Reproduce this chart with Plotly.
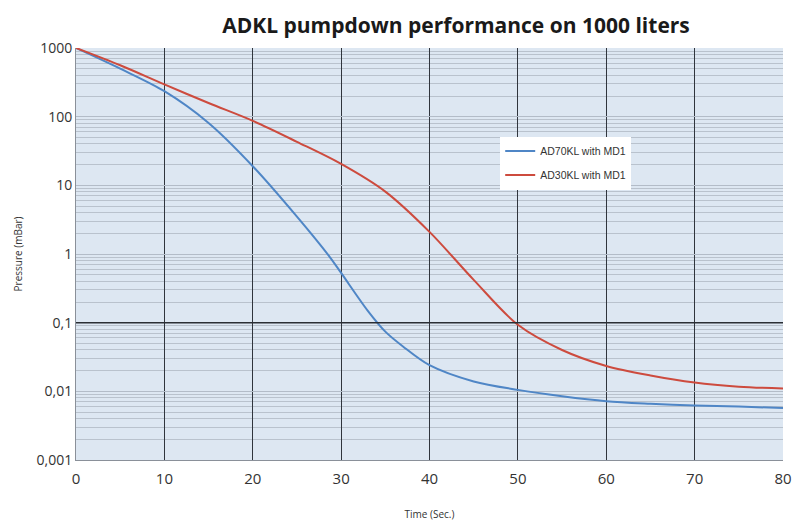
import plotly.graph_objects as go

time_s = [0, 5, 10, 15, 20, 25, 28.7, 30, 33, 35, 37, 40, 45, 50, 55, 60, 65, 70, 75, 80]
ad70kl = [1000, 500, 235, 81, 19, 3.5, 0.91, 0.53, 0.15, 0.074, 0.045, 0.024, 0.0139, 0.0105, 0.0085, 0.0072, 0.0066, 0.0062, 0.006, 0.0057]

time_r = [0, 5, 10, 15, 20, 25, 30, 35, 40, 45, 50, 55, 60, 65, 70, 75, 80]
ad30kl = [1000, 560, 295, 158, 87, 43, 20.5, 8.1, 2.1, 0.42, 0.093, 0.04, 0.0234, 0.017, 0.0134, 0.0117, 0.011]

y_tickvals = [0.001, 0.01, 0.1, 1, 10, 100, 1000]
y_ticktext = ["0,001", "0,01", "0,1", "1", "10", "100", "1000"]
x_tickvals = [0, 10, 20, 30, 40, 50, 60, 70, 80]

fig = go.Figure()
fig.add_hline(y=0.1, line=dict(color="#2a2e34", width=1.5), layer="above")

fig.add_trace(go.Scatter(x=time_s, y=ad70kl, mode="lines", name="AD70KL with MD1",
                         legendgroup="a",
                         line=dict(color="#4f86c6", width=2, shape="spline", smoothing=0.9)))
fig.add_trace(go.Scatter(x=time_r, y=ad30kl, mode="lines", name="AD30KL with MD1",
                         legendgroup="b",
                         line=dict(color="#cd4b3e", width=2, shape="spline", smoothing=0.9)))

fig.update_layout(
    width=800, height=521,
    margin=dict(l=76, r=17, t=48, b=61),
    paper_bgcolor="white",
    plot_bgcolor="#dde7f2",
    title=dict(text="<b>ADKL pumpdown performance on 1000 liters</b>",
               x=0.57, xanchor="center", y=0.95, yanchor="middle",
               font=dict(family="Open Sans", size=21, color="#1a1a1a")),
    legend=dict(x=0.6, y=0.785, xanchor="left", yanchor="top",
                bgcolor="white", borderwidth=0,
                font=dict(family="Liberation Sans", size=10.5, color="#333"),
                itemwidth=30, tracegroupgap=5, traceorder="grouped"),
    showlegend=True,
)

fig.update_xaxes(
    range=[0, 80], tickvals=x_tickvals, automargin=False,
    showgrid=True, gridcolor="#30353d", gridwidth=1.3,
    zeroline=False, showline=True, linecolor="#8a9099", linewidth=1,
    ticks="", ticklabelstandoff=5,
    tickfont=dict(family="Open Sans", size=15, color="#333"),
    title=dict(text="Time (Sec.)", font=dict(family="Open Sans", size=10, color="#333"), standoff=26),
)
fig.update_yaxes(
    type="log", range=[-3, 3], tickvals=y_tickvals, ticktext=y_ticktext, automargin=False,
    showgrid=True, gridcolor="#b3bcc8", gridwidth=1,
    minor=dict(showgrid=True, gridcolor="#b9c2cd", gridwidth=1, dtick="D1"),
    zeroline=False, showline=True, linecolor="#8a9099", linewidth=1,
    ticks="", tickfont=dict(family="Open Sans", size=14, color="#333"),
    title=dict(text="Pressure (mBar)", font=dict(family="Open Sans", size=10, color="#333"), standoff=12),
)

fig.write_html("out.html", config={"displayModeBar": False},
               post_script="document.body.style.margin='0';")
